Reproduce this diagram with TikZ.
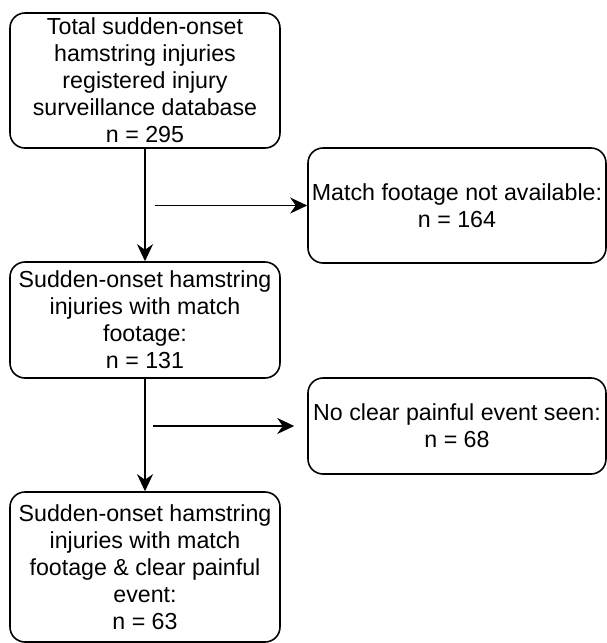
\documentclass[tikz,border=0pt]{standalone}
\usepackage{fontspec}
\setmainfont{Liberation Sans}
\usepackage{tikz}
\usetikzlibrary{arrows.meta}
\tikzset{
  ar/.style={-{Stealth[length=3.4mm,width=3.2mm,inset=1.1mm]},line width=0.9pt,black},
  box/.style={draw=black,line width=0.9pt,rounded corners=0.3cm,align=center,inner sep=0pt,
    font=\fontsize{13.2}{15.4}\selectfont}
}
\begin{document}
\begin{tikzpicture}
\useasboundingbox (0,0) rectangle (12.14,-12.86);
\node[box,minimum width=5.4cm,minimum height=2.7cm] (total) at (2.9,-1.61)
  {Total sudden-onset\\hamstring injuries\\registered injury\\surveillance database\\n = 295};
\node[box,minimum width=5.96cm,minimum height=2.3cm] (nofoot) at (9.14,-4.11)
  {Match footage not available:\\n = 164};
\node[box,minimum width=5.4cm,minimum height=2.32cm] (foot) at (2.9,-6.4)
  {Sudden-onset hamstring\\injuries with match\\footage:\\n = 131};
\node[box,minimum width=5.96cm,minimum height=1.92cm] (noevent) at (9.14,-8.52)
  {No clear painful event seen:\\n = 68};
\node[box,minimum width=5.4cm,minimum height=3.0cm] (final) at (2.9,-11.34)
  {Sudden-onset hamstring\\injuries with match\\footage \& clear painful\\event:\\n = 63};
% exclusions branch off the main line
\coordinate (ex1) at (3.1,-4.11);
\coordinate (ex2) at (3.06,-8.52);
\draw[ar] (total) -- (foot);
\draw[ar] (foot) -- (final);
\draw[ar] (ex1) -- (nofoot.west);
\draw[ar,shorten >=0.26cm] (ex2) -- (noevent.west);
\end{tikzpicture}
\end{document}
